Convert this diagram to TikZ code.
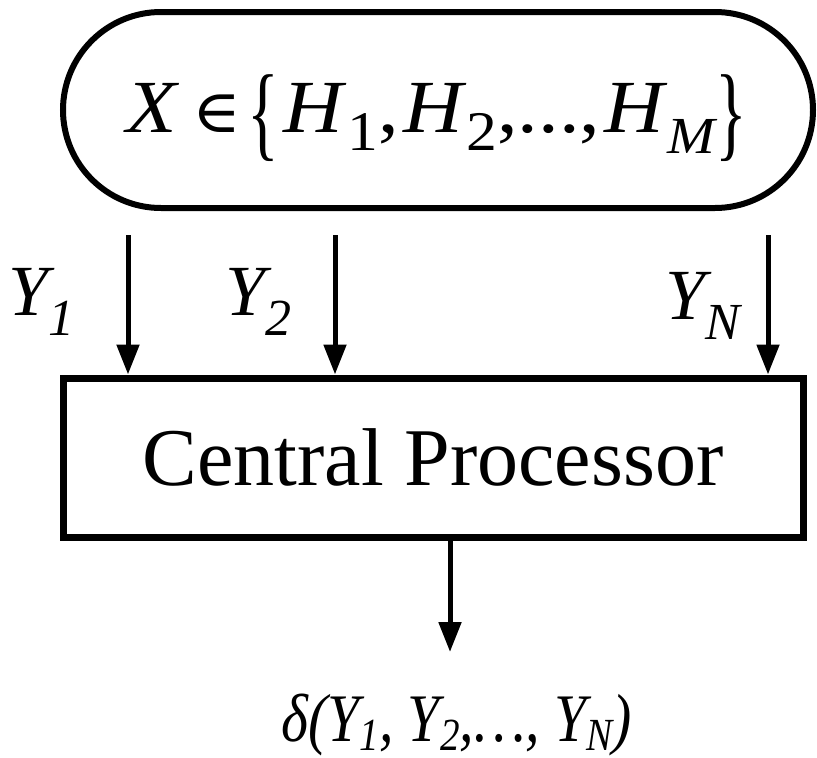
\documentclass[tikz,border=0pt]{standalone}
\usepackage{fontspec}
\usepackage{graphicx}
\setmainfont{Liberation Serif}
\newfontfamily\symf{DejaVu Serif}
\usetikzlibrary{arrows.meta,shapes.misc}
\newcommand{\Sb}[1]{\raisebox{-0.25em}{\fontsize{56}{56}\selectfont #1}}
\newcommand{\Ys}[1]{\raisebox{-0.28em}{\fontsize{52}{52}\selectfont\itshape #1}}
\newcommand{\Ds}[1]{\raisebox{-9pt}{\fontsize{46}{46}\selectfont\itshape #1}}
\newcommand{\bracel}{\raisebox{-0.2em}{\scalebox{0.8}[1.4]{\{}}}
\newcommand{\bracer}{\raisebox{-0.2em}{\scalebox{0.8}[1.4]{\}}}}
\begin{document}
\begin{tikzpicture}[x=1pt,y=-1pt,
  arr/.style={line width=5pt,-{Triangle[width=22pt,length=30pt]}},
  lab/.style={font=\fontsize{72}{72}\selectfont\itshape, inner sep=0pt},
]
\useasboundingbox (0,0) rectangle (817,758);
\node[draw, line width=6pt, rounded rectangle, minimum width=750pt, minimum height=196pt, inner sep=0pt] (hyp) at (438,110) {};
\node[anchor=base west, inner sep=0pt, font=\fontsize{75}{75}\selectfont] (htext) at (126,132)
  {\scalebox{1.1}[1]{\textit{X}\hspace{12pt}{\symf\fontsize{60}{60}\selectfont ∈}\hspace{6pt}\bracel\hspace{4pt}\textit{H}\Sb{1},\hspace{4pt}\textit{H}\Sb{2},...,\hspace{4pt}\textit{H}\Ys{M}\bracer}};
\node[draw, line width=7pt, minimum width=740pt, minimum height=159pt, inner sep=0pt,
  font=\fontsize{82}{82}\selectfont] (cp) at (433,457.5) {\raisebox{-4pt}{Central Processor}};
\coordinate (s1) at (128,235);
\coordinate (s2) at (335,235);
\coordinate (sn) at (768,235);
\draw[arr] (s1) -- (s1 |- cp.north);
\draw[arr] (s2) -- (s2 |- cp.north);
\draw[arr] (sn) -- (sn |- cp.north);
\node[lab, anchor=base west] (y1) at (8,315) {Y\Ys{1}};
\node[lab, anchor=base west] (y2) at (225,315) {Y\Ys{2}};
\node[lab, anchor=base west] (yn) at (665,319) {Y\Ys{N}};
\coordinate (o) at (450,652);
\draw[arr] (cp.south -| o) -- (o);
\node[font=\fontsize{68}{68}\selectfont\itshape, inner sep=0pt, anchor=base west] (d) at (281,741)
  {\scalebox{0.85}[1]{δ(Y\Ds{1}, Y\Ds{2},…, Y\Ds{N})}};
\end{tikzpicture}
\end{document}
